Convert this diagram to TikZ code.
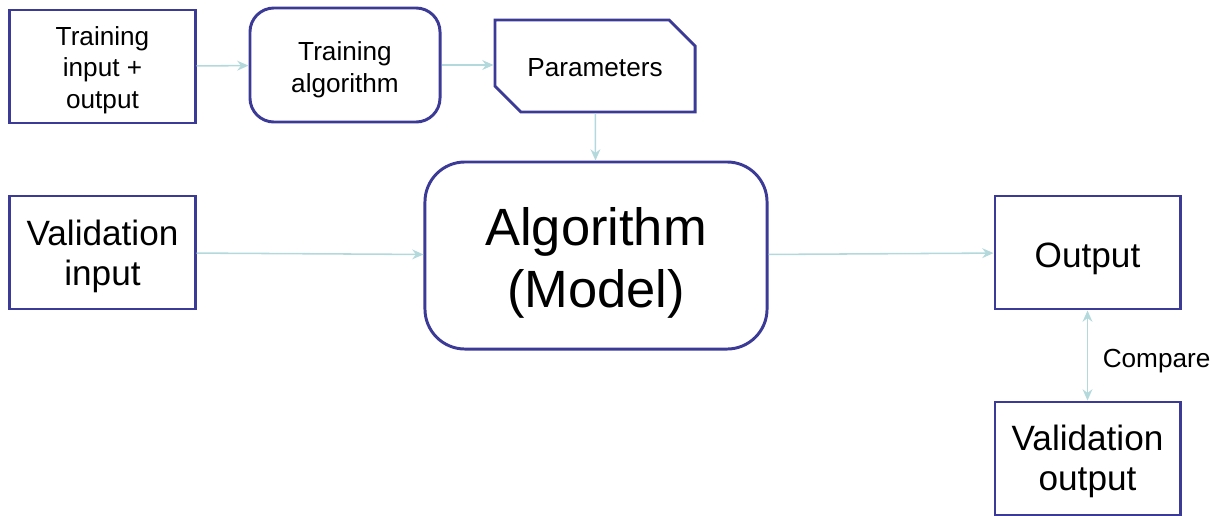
\documentclass[tikz,border=0pt]{standalone}
\usepackage{fontspec}
\setmainfont{Liberation Sans}
\usetikzlibrary{arrows.meta,shapes.misc}
\definecolor{boxblue}{HTML}{3B3A96}
\definecolor{linkblue}{HTML}{B4D9DC}
\newcommand{\lift}[1]{\rule{0pt}{#1}}

\begin{document}
\begin{tikzpicture}[x=0.025cm, y=-0.025cm,
    box/.style = {draw=boxblue, line width=2.1pt, inner sep=0pt, align=center},
    small/.style = {font=\fontsize{18.6}{22.5}\selectfont},
    mid/.style = {font=\fontsize{25}{28.5}\selectfont},
    link/.style = {draw=linkblue, line width=1.1pt, -{Stealth[length=8pt, width=7pt]}}]
    \useasboundingbox (0,0) rectangle (1215,515);

    \node[box, small, minimum width=4.625cm, minimum height=2.825cm] (trainio) at (102.5,66.5) {\lift{18.6pt}Training\\input +\\output};
    \node[box, small, rounded corners=0.6cm, minimum width=4.75cm, minimum height=2.85cm] (trainalg) at (345,65) {\lift{20.6pt}Training\\algorithm};
    \node[box, small, chamfered rectangle, chamfered rectangle corners={north east, south west}, chamfered rectangle sep=0.37cm, minimum width=5cm, minimum height=2.3cm] (params) at (595,66) {\lift{15.6pt}Parameters};
    \node[box, font=\fontsize{37.3}{44}\selectfont, rounded corners=1cm, minimum width=8.55cm, minimum height=4.675cm] (model) at (596,255.5) {\lift{37pt}Algorithm\\(Model)};
    \node[box, mid, minimum width=4.625cm, minimum height=2.825cm] (valin) at (102.5,252.5) {\lift{24pt}Validation\\input};
    \node[box, mid, minimum width=4.625cm, minimum height=2.825cm] (out) at (1087.5,252.5) {\lift{27pt}Output};
    \node[box, mid, minimum width=4.625cm, minimum height=2.825cm] (valout) at (1087.5,458.5) {\lift{22pt}Validation\\output};

    \draw[link] (trainio) -- (trainalg);
    \draw[link] (trainalg.east) -- (params.west |- trainalg.east);
    \draw[link] (params) -- (model);
    \draw[link] (valin) -- (model);
    \draw[link] (model) -- (out);
    \draw[link, {Stealth[length=8pt, width=7pt]}-{Stealth[length=8pt, width=7pt]}] (out) -- node[small, right=7pt, yshift=-4pt] {Compare} (valout);
\end{tikzpicture}
\end{document}
